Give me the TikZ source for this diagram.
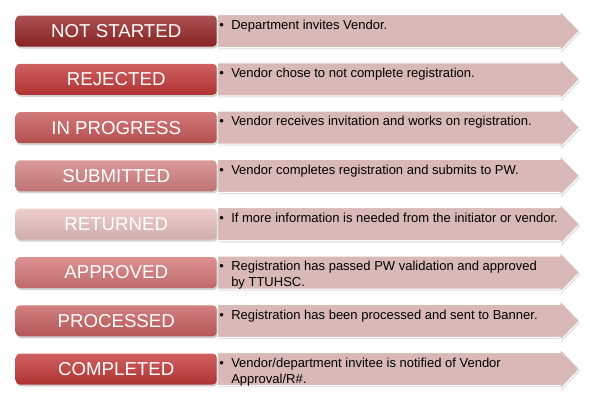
\documentclass[tikz,border=0pt]{standalone}
\usepackage{fontspec}
\setmainfont{Liberation Sans}
\usepackage{tikz}
\usetikzlibrary{shapes,shapes.arrows,shadows,calc,positioning}
\definecolor{notepink}{RGB}{217,184,184}
\definecolor{nsred}{RGB}{150,38,38}
\definecolor{rjred}{RGB}{195,56,56}
\definecolor{ipred}{RGB}{200,88,88}
\definecolor{sbred}{RGB}{210,128,128}
\definecolor{rtred}{RGB}{232,192,192}
\definecolor{apred}{RGB}{212,118,118}
\definecolor{pcred}{RGB}{200,96,96}
\definecolor{cpred}{RGB}{195,56,56}
\newcommand{\itm}[1]{\makebox[9pt][l]{\textbullet}#1}
\tikzset{
    x=0.75pt, y=-0.75pt, semithick,
    status/.style={rectangle, rounded corners=3pt, minimum width=150.75pt, minimum height=23.25pt,
        inner sep=0pt, text=white, font=\fontsize{14}{16}\selectfont,
        top color=#1!80!white, bottom color=#1!90!black,
        drop shadow={shadow xshift=0.75pt, shadow yshift=-1.5pt, opacity=0.35}},
    note/.style={single arrow, anchor=tail, single arrow head extend=2.6pt, single arrow tip angle=92,
        minimum height=271.5pt, inner xsep=0pt, inner ysep=12pt, fill=notepink,
        draw=white, line width=0.75pt,
        drop shadow={shadow xshift=0.75pt, shadow yshift=-1.2pt, opacity=0.25}},
    el/.style={inner sep=0pt, anchor=base west, align=left, font=\fontsize{9.75}{11.8}\selectfont}
}
\begin{document}
\begin{tikzpicture}
    \useasboundingbox (0,0) rectangle (590,407);
    % arrows
    \node[note] (ns-arr) at (217,31) {};
    \node[note] (rj-arr) at (217,79.3) {};
    \node[note] (ip-arr) at (217,127.6) {};
    \node[note] (sb-arr) at (217,175.9) {};
    \node[note] (rt-arr) at (217,224.2) {};
    \node[note] (ap-arr) at (217,272.5) {};
    \node[note] (pc-arr) at (217,320.8) {};
    \node[note] (cp-arr) at (217,369.1) {};
    % status boxes
    \node[status=nsred, anchor=east] (ns) at (ns-arr.tail) {NOT STARTED};
    \node[status=rjred, anchor=east] (rj) at (rj-arr.tail) {REJECTED};
    \node[status=ipred, anchor=east] (ip) at (ip-arr.tail) {IN PROGRESS};
    \node[status=sbred, anchor=east] (sb) at (sb-arr.tail) {SUBMITTED};
    \node[status=rtred, anchor=east] (rt) at (rt-arr.tail) {RETURNED};
    \node[status=apred, anchor=east] (ap) at (ap-arr.tail) {APPROVED};
    \node[status=pcred, anchor=east] (pc) at (pc-arr.tail) {PROCESSED};
    \node[status=cpred, anchor=east] (cp) at (cp-arr.tail) {COMPLETED};
    % texts
    \node[el] (ns-txt) at ([xshift=1.5pt,yshift=-10.5pt]ns.north east) {\itm{Department invites Vendor.}};
    \node[el] (rj-txt) at ([xshift=1.5pt,yshift=-10.5pt]rj.north east) {\itm{Vendor chose to not complete registration.}};
    \node[el] (ip-txt) at ([xshift=1.5pt,yshift=-10.5pt]ip.north east) {\itm{Vendor receives invitation and works on registration.}};
    \node[el] (sb-txt) at ([xshift=1.5pt,yshift=-10.5pt]sb.north east) {\itm{Vendor completes registration and submits to PW.}};
    \node[el] (rt-txt) at ([xshift=1.5pt,yshift=-10.5pt]rt.north east) {\itm{If more information is needed from the initiator or vendor.}};
    \node[el] (ap-txt) at ([xshift=1.5pt,yshift=-22.3pt]ap.north east) {\itm{Registration has passed PW validation and approved}\\\hspace*{9pt}by TTUHSC.};
    \node[el] (pc-txt) at ([xshift=1.5pt,yshift=-10.5pt]pc.north east) {\itm{Registration has been processed and sent to Banner.}};
    \node[el] (cp-txt) at ([xshift=1.5pt,yshift=-22.3pt]cp.north east) {\itm{Vendor/department invitee is notified of Vendor}\\\hspace*{9pt}Approval/R\#.};
\end{tikzpicture}
\end{document}
